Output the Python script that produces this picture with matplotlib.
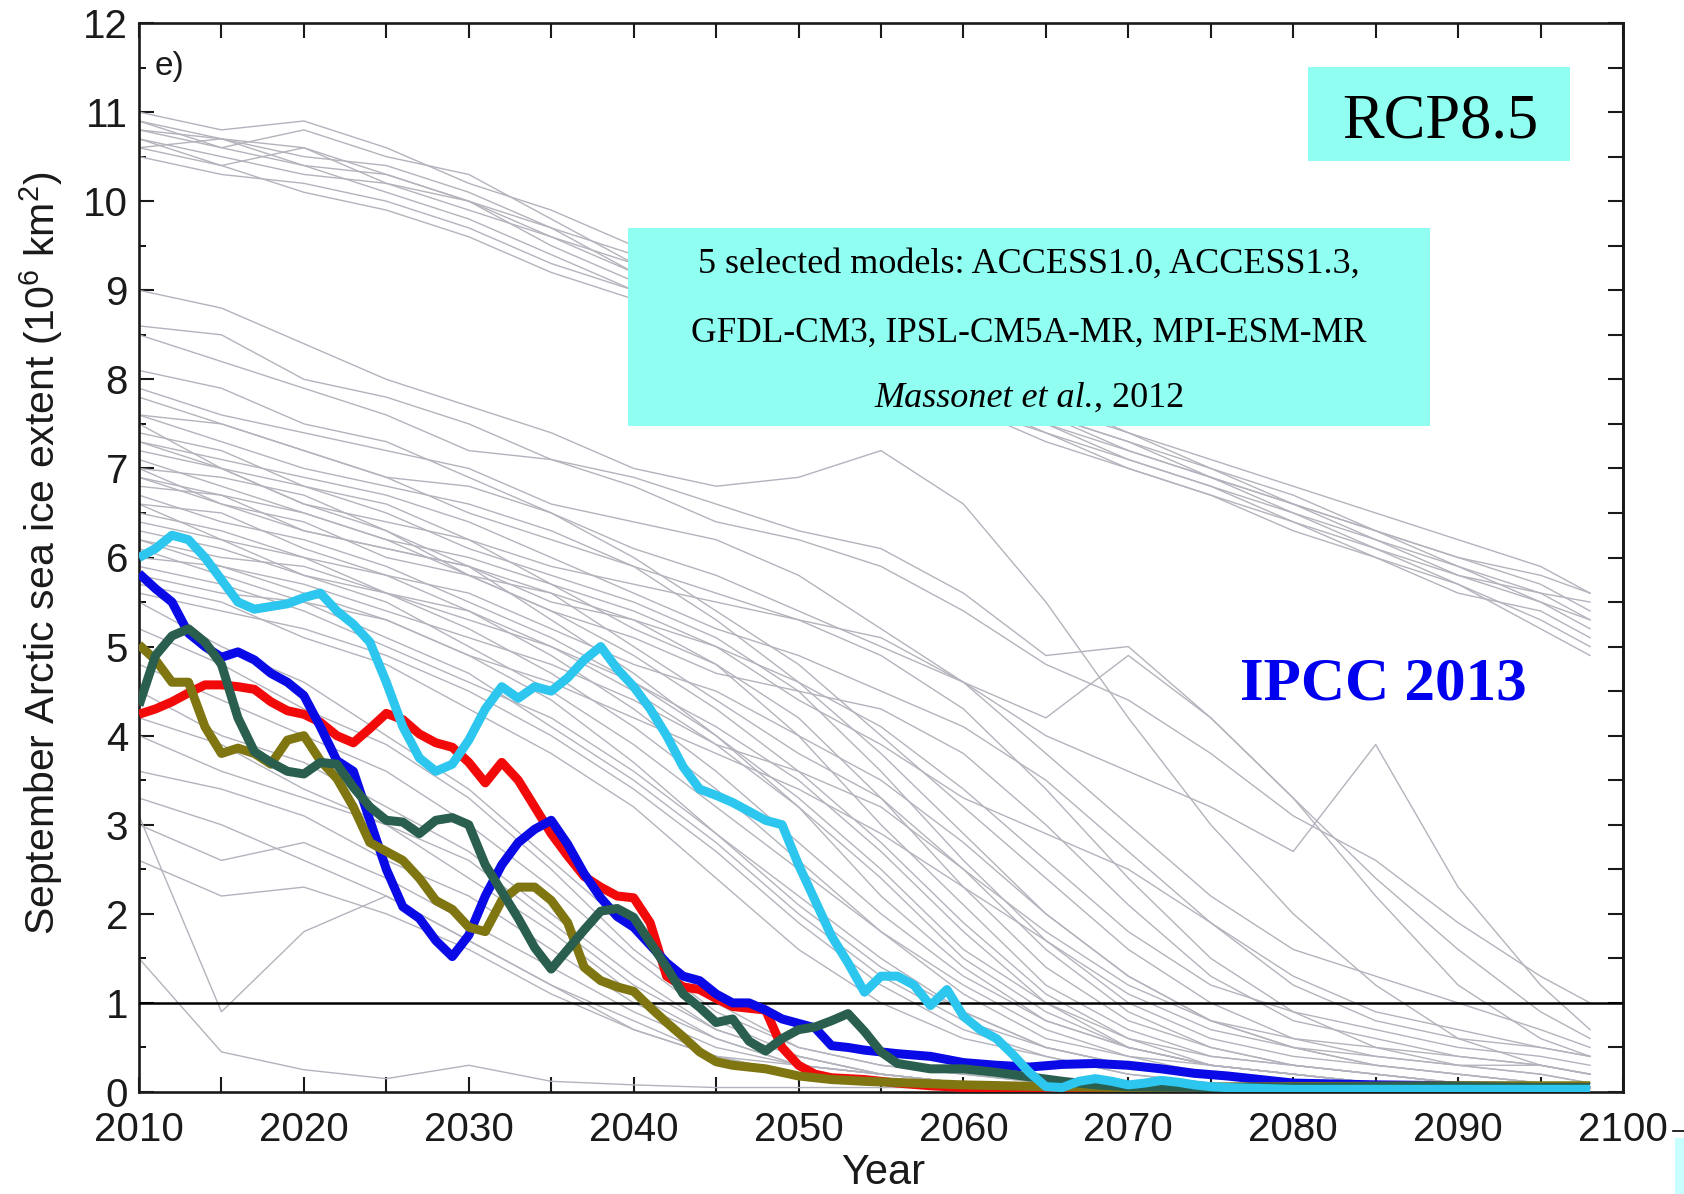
import matplotlib
matplotlib.use('Agg')
import matplotlib.pyplot as plt
from matplotlib.patches import Rectangle
from matplotlib.lines import Line2D

plt.rcParams['font.family'] = ['Liberation Sans', 'DejaVu Sans']
plt.rcParams['mathtext.fontset'] = 'custom'
plt.rcParams['mathtext.rm'] = 'Liberation Sans'

# ---------------- data ----------------
GREY_YEARS = [2010, 2015, 2020, 2025, 2030, 2035, 2040, 2045, 2050, 2055,
              2060, 2065, 2070, 2075, 2080, 2085, 2090, 2095, 2098]

GREY_TOP = [
    [11.0, 10.8, 10.9, 10.6, 10.2, 9.9, 9.5, 9.2, 8.8, 8.5, 8.1, 7.8, 7.4, 7.1, 6.8, 6.5, 6.2, 5.9, 5.6],
    [10.9, 10.7, 10.5, 10.4, 10.1, 9.7, 9.4, 9.1, 8.7, 8.4, 8.0, 7.7, 7.4, 7.0, 6.7, 6.3, 6.0, 5.7, 5.4],
    [10.8, 10.6, 10.8, 10.5, 10.3, 9.8, 9.3, 9.0, 8.6, 8.3, 7.9, 7.6, 7.3, 7.0, 6.6, 6.3, 5.9, 5.6, 5.3],
    [10.7, 10.5, 10.3, 10.2, 9.9, 9.6, 9.2, 8.9, 8.6, 8.2, 7.9, 7.5, 7.2, 6.9, 6.5, 6.2, 5.8, 5.5, 5.2],
    [10.6, 10.4, 10.6, 10.3, 10.0, 9.5, 9.1, 8.8, 8.5, 8.2, 7.8, 7.5, 7.1, 6.8, 6.5, 6.1, 5.7, 5.3, 5.0],
    [10.6, 10.7, 10.4, 10.1, 9.8, 9.4, 9.0, 8.7, 8.4, 8.1, 7.8, 7.4, 7.1, 6.8, 6.4, 6.1, 5.8, 5.6, 5.5],
    [10.5, 10.3, 10.2, 10.0, 9.7, 9.3, 9.0, 8.7, 8.4, 8.0, 7.7, 7.4, 7.0, 6.7, 6.4, 6.0, 5.6, 5.4, 5.1],
    [10.9, 10.6, 10.4, 10.3, 10.0, 9.6, 9.3, 8.9, 8.6, 8.3, 7.9, 7.6, 7.3, 6.9, 6.6, 6.2, 5.9, 5.5, 5.3],
    [10.7, 10.4, 10.1, 9.9, 9.6, 9.2, 8.9, 8.6, 8.3, 8.0, 7.7, 7.3, 7.0, 6.7, 6.3, 6.0, 5.7, 5.2, 4.9],
    [10.8, 10.7, 10.6, 10.2, 10.0, 9.7, 9.2, 8.9, 8.6, 8.2, 7.9, 7.6, 7.2, 6.9, 6.6, 6.3, 6.0, 5.8, 5.6],
]

GREY_HIGH = [
    [9.0, 8.8, 8.4, 8.0, 7.7, 7.4, 7.0, 6.8, 6.9, 7.2, 6.6, 5.5, 4.2, 3.0, 2.0, 1.2, 0.6, 0.3, 0.2],
    [8.6, 8.5, 8.0, 7.8, 7.5, 7.1, 6.9, 6.6, 6.3, 6.1, 5.6, 4.9, 5.0, 4.2, 3.3, 2.2, 1.2, 0.6, 0.4],
    [8.1, 7.9, 7.5, 7.3, 6.9, 6.5, 6.0, 5.4, 4.8, 4.0, 3.2, 2.4, 1.6, 1.0, 0.6, 0.4, 0.3, 0.2, 0.1],
    [8.5, 8.2, 7.9, 7.6, 7.2, 7.1, 6.8, 6.4, 6.2, 5.9, 5.4, 4.8, 4.4, 3.8, 3.1, 2.6, 1.9, 1.3, 1.0],
    [7.9, 7.6, 7.4, 7.2, 7.0, 6.6, 6.4, 6.2, 5.8, 5.2, 4.6, 4.0, 3.6, 3.2, 2.7, 3.9, 2.3, 1.2, 0.7],
    [7.6, 7.5, 7.2, 6.9, 6.8, 6.5, 6.1, 5.8, 5.4, 5.0, 4.6, 4.2, 4.9, 4.2, 3.3, 2.4, 1.6, 0.9, 0.6],
    [7.3, 7.0, 6.8, 6.6, 6.2, 5.9, 5.7, 5.5, 5.3, 5.1, 4.6, 3.8, 3.0, 2.2, 1.6, 1.3, 1.0, 0.7, 0.5],
]

GREY_MID = [
    [7.8, 7.5, 7.2, 6.9, 6.5, 6.2, 5.9, 5.6, 5.3, 4.9, 4.3, 3.4, 2.4, 1.5, 0.9, 0.5, 0.3, 0.2, 0.1],
    [7.6, 7.3, 7.0, 6.8, 6.6, 6.3, 5.9, 5.3, 4.6, 3.8, 2.9, 2.0, 1.3, 0.8, 0.5, 0.3, 0.2, 0.1, 0.1],
    [7.4, 7.2, 6.8, 6.5, 6.1, 5.8, 5.5, 5.1, 4.5, 3.6, 2.6, 1.7, 1.0, 0.6, 0.4, 0.3, 0.2, 0.1, 0.1],
    [7.2, 7.0, 6.6, 6.4, 6.2, 5.7, 5.2, 4.8, 4.2, 3.3, 2.3, 1.4, 0.8, 0.5, 0.3, 0.2, 0.1, 0.1, 0.05],
    [7.0, 6.9, 6.7, 6.3, 5.9, 5.5, 5.3, 4.8, 4.0, 3.0, 2.1, 1.2, 0.7, 0.4, 0.3, 0.2, 0.1, 0.1, 0.05],
    [7.1, 6.8, 6.5, 6.2, 5.8, 5.4, 4.9, 4.3, 3.6, 2.8, 1.9, 1.1, 0.6, 0.3, 0.2, 0.1, 0.1, 0.05, 0.05],
    [6.9, 6.6, 6.4, 6.0, 5.8, 5.6, 5.0, 4.4, 3.8, 3.3, 2.5, 1.6, 0.9, 0.5, 0.3, 0.2, 0.1, 0.1, 0.05],
    [6.8, 6.7, 6.3, 6.1, 5.9, 5.3, 4.7, 4.0, 3.2, 2.4, 1.5, 0.9, 0.5, 0.3, 0.2, 0.1, 0.1, 0.05, 0.05],
    [6.7, 6.4, 6.2, 5.9, 5.5, 5.1, 4.6, 4.1, 3.5, 2.7, 1.8, 1.0, 0.5, 0.3, 0.2, 0.1, 0.1, 0.05, 0.05],
    [6.6, 6.5, 6.1, 5.8, 5.6, 5.2, 4.8, 4.5, 4.0, 3.5, 2.8, 2.0, 1.3, 0.8, 0.5, 0.3, 0.2, 0.1, 0.1],
    [6.5, 6.3, 6.0, 5.8, 5.4, 4.9, 4.3, 3.6, 2.8, 2.0, 1.3, 0.8, 0.5, 0.3, 0.2, 0.1, 0.1, 0.05, 0.05],
    [6.4, 6.2, 6.0, 5.6, 5.3, 5.0, 4.6, 4.0, 3.3, 2.5, 1.6, 1.0, 0.6, 0.4, 0.3, 0.2, 0.1, 0.1, 0.05],
    [6.3, 6.1, 5.8, 5.5, 5.0, 4.5, 3.9, 3.2, 2.5, 1.8, 1.2, 0.7, 0.4, 0.3, 0.2, 0.1, 0.1, 0.05, 0.05],
    [6.2, 6.0, 5.9, 5.6, 5.2, 4.7, 4.1, 3.4, 2.6, 1.8, 1.1, 0.6, 0.4, 0.2, 0.1, 0.1, 0.05, 0.05, 0.05],
    [6.1, 5.8, 5.5, 5.3, 4.9, 4.4, 3.7, 2.9, 2.1, 1.4, 0.9, 0.5, 0.3, 0.2, 0.1, 0.1, 0.05, 0.05, 0.05],
    [6.0, 5.9, 5.7, 5.4, 5.1, 4.8, 4.4, 3.9, 3.2, 2.2, 1.4, 0.8, 0.5, 0.3, 0.2, 0.1, 0.1, 0.05, 0.05],
    [5.9, 5.7, 5.4, 5.0, 4.6, 4.2, 3.6, 2.9, 2.2, 1.5, 0.9, 0.5, 0.3, 0.2, 0.1, 0.1, 0.05, 0.05, 0.05],
    [5.8, 5.6, 5.5, 5.1, 4.7, 4.1, 3.5, 2.8, 2.0, 1.3, 0.8, 0.5, 0.3, 0.2, 0.1, 0.05, 0.05, 0.05, 0.05],
    [5.7, 5.5, 5.1, 4.8, 4.3, 3.8, 3.2, 2.4, 1.6, 1.0, 0.6, 0.4, 0.2, 0.1, 0.1, 0.05, 0.05, 0.05, 0.05],
    [5.6, 5.4, 5.2, 4.9, 4.5, 4.0, 3.4, 2.7, 1.9, 1.2, 0.7, 0.4, 0.2, 0.1, 0.1, 0.05, 0.05, 0.05, 0.05],
    [7.5, 7.0, 6.6, 6.3, 5.8, 5.4, 5.1, 4.7, 4.5, 4.3, 3.8, 3.0, 2.1, 1.3, 0.8, 0.6, 0.4, 0.3, 0.2],
    [7.0, 6.6, 6.3, 6.1, 5.9, 5.6, 5.3, 5.0, 4.6, 4.1, 3.4, 2.6, 1.8, 1.2, 0.9, 0.7, 0.5, 0.4, 0.3],
    [6.6, 6.2, 5.8, 5.6, 5.4, 5.0, 4.5, 3.9, 3.6, 3.2, 2.5, 1.8, 1.2, 0.8, 0.6, 0.5, 0.4, 0.3, 0.2],
    [6.2, 5.9, 5.6, 5.3, 4.9, 4.6, 4.2, 3.8, 3.4, 2.9, 2.3, 1.7, 1.1, 0.7, 0.5, 0.4, 0.3, 0.3, 0.2],
    [7.3, 7.1, 6.9, 6.7, 6.4, 6.0, 5.6, 5.2, 4.9, 4.5, 4.1, 3.5, 2.7, 1.9, 1.2, 0.8, 0.6, 0.5, 0.4],
    [6.9, 6.7, 6.5, 6.2, 6.0, 5.7, 5.4, 5.0, 4.4, 3.9, 3.3, 2.9, 2.5, 1.9, 1.3, 0.9, 0.7, 0.5, 0.4],
]

GREY_LOW = [
    [5.5, 5.0, 4.6, 4.0, 3.4, 2.6, 1.8, 1.0, 0.5, 0.3, 0.2, 0.1, 0.1, 0.05, 0.05, 0.05, 0.05, 0.05, 0.05],
    [5.2, 4.8, 4.3, 3.9, 3.3, 2.5, 1.6, 0.9, 0.5, 0.3, 0.2, 0.1, 0.05, 0.05, 0.05, 0.05, 0.05, 0.05, 0.05],
    [4.8, 4.4, 4.0, 3.6, 3.0, 2.3, 1.5, 0.8, 0.4, 0.2, 0.1, 0.05, 0.05, 0.05, 0.05, 0.05, 0.05, 0.05, 0.05],
    [4.5, 4.0, 3.7, 3.2, 2.7, 2.0, 1.3, 0.7, 0.4, 0.2, 0.1, 0.1, 0.05, 0.05, 0.05, 0.05, 0.05, 0.05, 0.05],
    [4.2, 3.9, 3.4, 3.0, 2.4, 1.8, 1.1, 0.6, 0.3, 0.2, 0.1, 0.05, 0.05, 0.05, 0.05, 0.05, 0.05, 0.05, 0.05],
    [4.0, 3.6, 3.3, 3.0, 2.6, 1.9, 1.2, 0.7, 0.4, 0.2, 0.1, 0.1, 0.05, 0.05, 0.05, 0.05, 0.05, 0.05, 0.05],
    [3.6, 3.4, 3.1, 2.6, 2.2, 1.6, 1.0, 0.6, 0.3, 0.2, 0.1, 0.05, 0.05, 0.05, 0.05, 0.05, 0.05, 0.05, 0.05],
    [3.3, 3.0, 2.6, 2.2, 1.7, 1.2, 0.8, 0.4, 0.2, 0.1, 0.1, 0.05, 0.05, 0.05, 0.05, 0.05, 0.05, 0.05, 0.05],
    [3.0, 2.6, 2.8, 2.4, 1.9, 1.4, 0.9, 0.5, 0.3, 0.2, 0.1, 0.05, 0.05, 0.05, 0.05, 0.05, 0.05, 0.05, 0.05],
    [2.6, 2.2, 2.3, 2.0, 1.6, 1.1, 0.7, 0.4, 0.2, 0.1, 0.05, 0.05, 0.05, 0.05, 0.05, 0.05, 0.05, 0.05, 0.05],
    [3.1, 0.9, 1.8, 2.2, 1.7, 1.2, 0.7, 0.4, 0.3, 0.2, 0.1, 0.05, 0.05, 0.05, 0.05, 0.05, 0.05, 0.05, 0.05],
    [1.5, 0.45, 0.25, 0.15, 0.3, 0.12, 0.08, 0.05, 0.05, 0.05, 0.05, 0.05, 0.05, 0.05, 0.05, 0.05, 0.05, 0.05, 0.05],
]

BLUE_YEARS = [2010, 2011, 2012, 2013, 2014, 2015, 2016, 2017, 2018, 2019, 2020, 2021, 2022,
              2023, 2024, 2025, 2026, 2027, 2028, 2029, 2030, 2031, 2032, 2033, 2034, 2035,
              2036, 2037, 2038, 2039, 2040, 2041, 2042, 2043, 2044, 2045, 2046, 2047, 2048,
              2049, 2050, 2051, 2052, 2053, 2054, 2055, 2056, 2058, 2060, 2062, 2064, 2066,
              2068, 2070, 2072, 2074, 2076, 2078, 2080, 2085, 2090, 2095, 2098]
BLUE_VALS = [5.82, 5.65, 5.5, 5.15, 5.0, 4.88, 4.94, 4.85, 4.7, 4.6, 4.45, 4.1, 3.72,
             3.6, 3.05, 2.5, 2.08, 1.95, 1.7, 1.52, 1.76, 2.2, 2.55, 2.8, 2.95, 3.05,
             2.78, 2.45, 2.18, 1.97, 1.85, 1.65, 1.45, 1.3, 1.25, 1.1, 1.0, 1.0, 0.92,
             0.82, 0.77, 0.72, 0.52, 0.5, 0.47, 0.45, 0.43, 0.4, 0.33, 0.3, 0.28, 0.31,
             0.32, 0.3, 0.26, 0.21, 0.18, 0.14, 0.1, 0.08, 0.07, 0.06, 0.06]

RED_YEARS = [2010, 2011, 2012, 2013, 2014, 2015, 2016, 2017, 2018, 2019, 2020, 2021, 2022,
             2023, 2024, 2025, 2026, 2027, 2028, 2029, 2030, 2031, 2032, 2033, 2034, 2035,
             2036, 2037, 2038, 2039, 2040, 2041, 2042, 2043, 2044, 2045, 2046, 2047, 2048,
             2049, 2050, 2051, 2052, 2054, 2056, 2058, 2060, 2065, 2070, 2080, 2090, 2098]
RED_VALS = [4.24, 4.3, 4.38, 4.48, 4.57, 4.57, 4.55, 4.52, 4.38, 4.28, 4.24, 4.15, 4.0,
            3.92, 4.08, 4.25, 4.18, 4.02, 3.92, 3.87, 3.7, 3.47, 3.7, 3.5, 3.2, 2.9,
            2.65, 2.42, 2.3, 2.2, 2.18, 1.9, 1.3, 1.18, 1.15, 1.05, 0.96, 0.94, 0.92,
            0.5, 0.3, 0.2, 0.16, 0.14, 0.1, 0.07, 0.05, 0.02, 0.01, 0.01, 0.01, 0.01]

OLIVE_YEARS = [2010, 2011, 2012, 2013, 2014, 2015, 2016, 2017, 2018, 2019, 2020, 2021, 2022,
               2023, 2024, 2025, 2026, 2027, 2028, 2029, 2030, 2031, 2032, 2033, 2034, 2035,
               2036, 2037, 2038, 2039, 2040, 2041, 2042, 2043, 2044, 2045, 2046, 2048, 2050,
               2052, 2054, 2057, 2060, 2065, 2070, 2080, 2090, 2098]
OLIVE_VALS = [5.02, 4.85, 4.6, 4.6, 4.1, 3.8, 3.86, 3.8, 3.68, 3.95, 4.0, 3.72, 3.52,
              3.2, 2.8, 2.7, 2.6, 2.4, 2.15, 2.05, 1.85, 1.8, 2.15, 2.3, 2.3, 2.15,
              1.9, 1.4, 1.25, 1.18, 1.13, 0.95, 0.78, 0.62, 0.45, 0.34, 0.3, 0.26, 0.18,
              0.14, 0.12, 0.1, 0.08, 0.06, 0.05, 0.06, 0.07, 0.07]

DKGREEN_YEARS = [2010, 2011, 2012, 2013, 2014, 2015, 2016, 2017, 2018, 2019, 2020, 2021, 2022,
                 2023, 2024, 2025, 2026, 2027, 2028, 2029, 2030, 2031, 2032, 2033, 2034, 2035,
                 2036, 2037, 2038, 2039, 2040, 2041, 2042, 2043, 2044, 2045, 2046, 2047, 2048,
                 2049, 2050, 2051, 2052, 2053, 2054, 2055, 2056, 2058, 2060, 2062, 2064, 2066,
                 2068, 2070, 2075, 2080, 2085, 2090, 2095, 2098]
DKGREEN_VALS = [4.34, 4.9, 5.12, 5.2, 5.05, 4.8, 4.2, 3.82, 3.7, 3.6, 3.57, 3.7, 3.68,
                3.42, 3.2, 3.05, 3.03, 2.9, 3.05, 3.08, 3.0, 2.55, 2.25, 1.95, 1.62, 1.38,
                1.6, 1.82, 2.03, 2.06, 1.96, 1.68, 1.4, 1.1, 0.95, 0.78, 0.82, 0.57, 0.46,
                0.6, 0.7, 0.73, 0.8, 0.88, 0.68, 0.45, 0.32, 0.26, 0.26, 0.22, 0.17, 0.12,
                0.08, 0.06, 0.05, 0.05, 0.06, 0.06, 0.05, 0.05]

CYAN_YEARS = [2010, 2011, 2012, 2013, 2014, 2015, 2016, 2017, 2018, 2019, 2020, 2021, 2022,
              2023, 2024, 2025, 2026, 2027, 2028, 2029, 2030, 2031, 2032, 2033, 2034, 2035,
              2036, 2037, 2038, 2039, 2040, 2041, 2042, 2043, 2044, 2045, 2046, 2047, 2048,
              2049, 2050, 2051, 2052, 2053, 2054, 2055, 2056, 2057, 2058, 2059, 2060, 2061,
              2062, 2063, 2064, 2065, 2066, 2067, 2068, 2069, 2070, 2071, 2072, 2073, 2074,
              2075, 2076, 2078, 2080, 2085, 2090, 2095, 2098]
CYAN_VALS = [6.0, 6.1, 6.25, 6.2, 6.0, 5.75, 5.5, 5.42, 5.45, 5.48, 5.55, 5.6, 5.4,
             5.25, 5.05, 4.6, 4.1, 3.75, 3.6, 3.68, 3.95, 4.3, 4.55, 4.42, 4.55, 4.5,
             4.65, 4.85, 5.0, 4.75, 4.55, 4.3, 4.0, 3.65, 3.4, 3.33, 3.25, 3.15, 3.05,
             3.0, 2.55, 2.15, 1.75, 1.45, 1.12, 1.3, 1.3, 1.2, 0.97, 1.15, 0.85, 0.7,
             0.6, 0.42, 0.22, 0.06, 0.05, 0.12, 0.15, 0.12, 0.08, 0.1, 0.13, 0.11, 0.08,
             0.06, 0.05, 0.04, 0.03, 0.03, 0.03, 0.03, 0.03]

X_TICKS = [2010, 2015, 2020, 2025, 2030, 2035, 2040, 2045, 2050, 2055,
           2060, 2065, 2070, 2075, 2080, 2085, 2090, 2095, 2100]
X_LABELS = ['2010', '', '2020', '', '2030', '', '2040', '', '2050', '',
            '2060', '', '2070', '', '2080', '', '2090', '', '2100']
Y_TICKS = [0, 1, 2, 3, 4, 5, 6, 7, 8, 9, 10, 11, 12]
Y_MINOR = [0.5, 1.5, 2.5, 3.5, 4.5, 5.5, 6.5, 7.5, 8.5, 9.5, 10.5, 11.5]
Y_RIGHT = [0, 0.5, 1, 1.5, 2, 2.5, 3, 3.5, 4, 4.5, 5, 5.5, 6, 6.5, 7, 7.5, 8, 8.5, 9,
           9.5, 10, 10.5, 11, 11.5, 12]

# ---------------- figure ----------------
W, H = 1684, 1194
fig = plt.figure(figsize=(W / 100, H / 100), dpi=100)
fig.patch.set_facecolor('white')


def fx(px):
    return px / W


def fy(py):
    return 1 - py / H


ax = fig.add_axes([fx(139), fy(1092), (1623 - 139) / W, (1092 - 23) / H])

GREY = '#b3b3bd'
for s in GREY_TOP + GREY_HIGH + GREY_MID + GREY_LOW:
    ax.plot(GREY_YEARS, s, color=GREY, lw=1.0, zorder=2)

ax.axhline(1, color='black', lw=1.8, zorder=3)

LW = 6.5
style = dict(lw=LW, solid_joinstyle='round', solid_capstyle='butt')
ax.plot(RED_YEARS, RED_VALS, color='#f20a0a', zorder=4, **style)
ax.plot(BLUE_YEARS, BLUE_VALS, color='#0a0ae6', zorder=5, **style)
ax.plot(OLIVE_YEARS, OLIVE_VALS, color='#7f7612', zorder=6, **style)
ax.plot(DKGREEN_YEARS, DKGREEN_VALS, color='#2a5f50', zorder=7, **style)
ax.plot(CYAN_YEARS, CYAN_VALS, color='#2cc6ee', zorder=8, **style)

ax.set_xlim(2010, 2100)
ax.set_ylim(0, 12)
ax.set_xticks(X_TICKS)
ax.set_xticklabels(X_LABELS)
ax.set_yticks(Y_TICKS)
ax.set_yticks(Y_MINOR, minor=True)
ax.tick_params(axis='x', which='major', direction='in', length=11, width=1.5,
               top=True, bottom=True, labelsize=29, pad=14, colors='#1a1a1a')
ax.tick_params(axis='y', which='major', direction='in', length=11, width=1.5,
               left=True, right=False, labelsize=29, pad=8, colors='#1a1a1a')
ax.tick_params(axis='y', which='minor', direction='in', length=5, width=1.3,
               left=True, right=False)
for sp in ax.spines.values():
    sp.set_linewidth(1.9)
    sp.set_color('#1a1a1a')

sec = ax.secondary_yaxis('right')
sec.set_yticks(Y_RIGHT)
sec.tick_params(direction='in', length=11, width=1.5, labelright=False, colors='#1a1a1a')
sec.spines['right'].set_linewidth(1.9)

# axis labels
fig.text(fx(41), fy(553), r'September Arctic sea ice extent (10$^6$ km$^2$)',
         rotation=90, ha='center', va='center', fontsize=29.5, color='#1a1a1a')
fig.text(fx(883), fy(1193), 'Year', ha='center', va='bottom', fontsize=30, color='#1a1a1a')
fig.text(fx(155), fy(75), 'e)', ha='left', va='baseline', fontsize=24, color='#1a1a1a')

# annotation boxes
BOX = '#90fff2'
fig.add_artist(Rectangle((fx(1308), fy(161)), (1570 - 1308) / W, (161 - 67) / H,
                         transform=fig.transFigure, facecolor=BOX, edgecolor='none', zorder=10))
fig.text(fx(1440), fy(137), 'RCP8.5', ha='center', va='baseline', fontsize=45,
         family='Liberation Serif', color='black', zorder=11)

fig.add_artist(Rectangle((fx(628), fy(426)), (1430 - 628) / W, (426 - 228) / H,
                         transform=fig.transFigure, facecolor=BOX, edgecolor='none', zorder=10))
fig.text(fx(1029), fy(273), '5 selected models: ACCESS1.0, ACCESS1.3,', ha='center',
         va='baseline', fontsize=26, family='Liberation Serif', color='black', zorder=11)
fig.text(fx(1029), fy(342), 'GFDL-CM3, IPSL-CM5A-MR, MPI-ESM-MR', ha='center',
         va='baseline', fontsize=25.5, family='Liberation Serif', color='black', zorder=11)

# "Massonet et al., 2012" : italic part + upright part, centred together
t_it = fig.text(0, fy(407), 'Massonet et al.', ha='left', va='baseline', fontsize=26,
                family='Liberation Serif', style='italic', color='black', zorder=11)
t_rm = fig.text(0, fy(407), ', 2012', ha='left', va='baseline', fontsize=26,
                family='Liberation Serif', color='black', zorder=11)
renderer = fig.canvas.get_renderer()
w_it = t_it.get_window_extent(renderer).width
w_rm = t_rm.get_window_extent(renderer).width
x_start = 1029 - (w_it + w_rm) / 2
t_it.set_x(fx(x_start))
t_rm.set_x(fx(x_start + w_it))

fig.text(fx(1383), fy(699), 'IPCC 2013', ha='center', va='baseline', fontsize=44,
         family='Liberation Serif', fontweight='bold', color='#0000ee', zorder=11)

# small artefacts at bottom right corner of the slide
fig.add_artist(Rectangle((fx(1675), 0), 9 / W, (1194 - 1138) / H,
                         transform=fig.transFigure, facecolor='#c8ffff', edgecolor='none'))
fig.add_artist(Line2D([fx(1673), fx(1684)], [fy(1131), fy(1131)],
                      transform=fig.transFigure, color='black', lw=1.2))

fig.savefig('out.png', dpi=100, facecolor='white')
